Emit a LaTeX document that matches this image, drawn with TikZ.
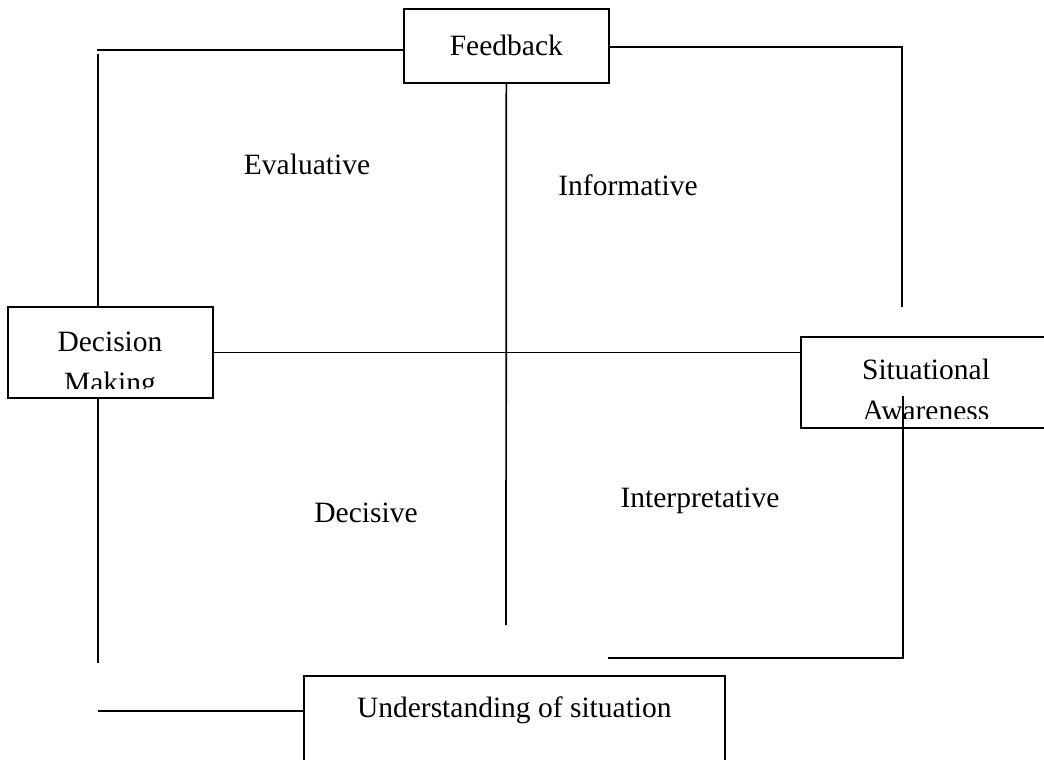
\documentclass[tikz,border=0pt]{standalone}
\usepackage{fontspec}
\setmainfont{Liberation Serif}
\usepackage{tikz}
\usetikzlibrary{positioning, calc}
\tikzset{
  font=\fontsize{29.5}{41}\selectfont,
  boxnode/.style={
    rectangle, draw=black, line width=1.7pt, inner sep=0pt,
    anchor=north west, align=center
  },
  quadlabel/.style={anchor=base, inner sep=0pt},
  linkline/.style={draw=black, line width=1.7pt}
}
\begin{document}
\begin{tikzpicture}[x=1pt, y=-1pt]
  \clip (0,0) rectangle (1044,760);

  % Boxes
  \node[boxnode, minimum width=205pt, minimum height=74pt] (feedback) at (403,8) {Feedback};
  \node[boxnode, minimum width=205pt, minimum height=91pt] (decision) at (7,306) {};
  \node[boxnode, minimum width=253pt, minimum height=91pt] (aware) at (800,336) {};
  \node[boxnode, minimum width=421pt, text height=42pt, text depth=60pt] (understand) at (303,675) {Understanding of situation};

  % Box texts, cut off at the bottom
  \begin{scope}
    \clip (decision.north west) rectangle ([yshift=10pt]decision.south east);
    \node[quadlabel, align=center] (decision-text) at (110,392) {Decision\\Making};
  \end{scope}
  \begin{scope}
    \clip (aware.north west) rectangle ([yshift=10.5pt]aware.south east);
    \node[quadlabel, align=center] (aware-text) at (926,420) {Situational\\Awareness};
  \end{scope}

  % Quadrant labels
  \node[quadlabel] (evaluative) at (307,174) {Evaluative};
  \node[quadlabel] (informative) at (628,195) {Informative};
  \node[quadlabel] (decisive) at (366,522) {Decisive};
  \node[quadlabel] (interpretative) at (700,507) {Interpretative};

  % Loose ends
  \coordinate (tl-corner) at (97,50);
  \coordinate (tl-start) at (98,54);
  \coordinate (tr-corner) at (902,47);
  \coordinate (tr-end) at (902,307);
  \coordinate (centre-end) at (506,625);
  \coordinate (bl-end) at (98,663);
  \coordinate (bl-start) at (98,711);
  \coordinate (ar-start) at (903,396);
  \coordinate (ar-corner) at (903,658);
  \coordinate (ar-end) at (608,658);

  % Lines
  \draw[linkline] (feedback.west |- tl-corner) -- (tl-corner);
  \draw[linkline] (tl-start) -- (tl-start |- decision.north);
  \draw[linkline] (feedback.east |- tr-corner) -- (tr-corner) -- (tr-end);
  \draw[linkline] (feedback.south) -- (centre-end);
  \draw[linkline] (decision.east) -- (aware.west |- decision.east);
  \draw[linkline] (tl-start |- decision.south) -- (bl-end);
  \draw[linkline] (bl-start) -- (understand.west |- bl-start);
  \draw[linkline] (ar-start) -- (ar-corner) -- (ar-end);

\end{tikzpicture}
\end{document}
